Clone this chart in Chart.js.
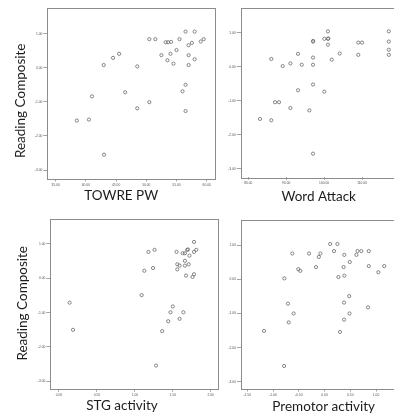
<!DOCTYPE html>
<html>
<head>
<meta charset="utf-8">
<script src="https://cdn.jsdelivr.net/npm/chart.js@4.4.1/dist/chart.umd.min.js"></script>
<style>
  html, body { margin: 0; padding: 0; background: #fff; overflow: hidden; }
  body { width: 394px; height: 414px; position: relative; }
  canvas { position: absolute; }
</style>
</head>
<body>
<canvas id="c1" width="232" height="207" style="left:0px;top:0px"></canvas>
<canvas id="c2" width="210" height="207" style="left:200px;top:0px"></canvas>
<canvas id="c3" width="232" height="207" style="left:0px;top:207px"></canvas>
<canvas id="c4" width="210" height="207" style="left:200px;top:207px"></canvas>
<script>
// ---------- data ----------
const yTitle = 'Reading Composite';
const readingTicks = [-3, -2, -1, 0, 1];
const readingTickLabels = ['-3.00', '-2.00', '-1.00', '0.00', '1.00'];

const towreTitle = 'TOWRE PW';
const towreTicks = [35, 40, 45, 50, 55, 60];
const towreTickLabels = ['35.00', '40.00', '45.00', '50.00', '55.00', '60.00'];
const towreX = [38.5, 40.5, 41.0, 43.0, 42.95, 44.5, 45.5, 46.5, 48.5, 48.5, 50.5, 50.5, 51.5, 52.5, 53.2, 53.6, 54.1, 53.5, 54.0, 54.5, 55.0, 55.5, 56.5, 56.5, 56.0, 56.5, 57.0, 57.55, 57.0, 57.0, 58.0, 58.0, 59.0, 59.5];
const towreY = [-1.55, -1.52, -0.84, -2.55, 0.08, 0.29, 0.41, -0.72, 0.04, -1.19, -1.01, 0.84, 0.84, 0.37, 0.75, 0.75, 0.76, 0.22, 0.41, 0.12, 0.52, 0.84, 1.06, -0.5, -0.69, -1.27, 0.66, 0.73, 0.37, 0.08, 1.06, 0.25, 0.77, 0.84];

const waTitle = 'Word Attack';
const waTicks = [80, 90, 100, 110];
const waTickLabels = ['80.00', '90.00', '100.00', '110.00'];
const waX = [83.1, 86.07, 86.07, 87.05, 88.1, 89.07, 91.1, 91.1, 93.1, 93.1, 94.1, 96.1, 97.07, 97.07, 97.07, 97.1, 97.07, 97.07, 100.05, 100.05, 101.0, 101.0, 101.1, 101.0, 102.0, 104.1, 109.0, 110.0, 109.0, 117.05, 117.05, 117.05, 117.05];
const waY = [-1.53, -1.57, 0.23, -1.04, -1.04, 0.02, 0.10, -1.21, 0.38, -0.69, 0.06, -1.28, 0.06, 0.27, 0.74, 0.76, -0.52, -2.55, -0.73, 0.82, 1.04, 0.82, 0.83, 0.65, 0.21, 0.39, 0.71, 0.71, 0.35, 1.04, 0.74, 0.50, 0.35];

const stgTitle = 'STG activity';
const stgTicks = [0, 0.5, 1, 1.5, 2];
const stgTickLabels = ['0.00', '0.50', '1.00', '1.50', '2.00'];
const stgX = [0.14, 0.185, 1.09, 1.125, 1.24, 1.18, 1.26, 1.28, 1.36, 1.44, 1.47, 1.5, 1.55, 1.56, 1.56, 1.59, 1.59, 1.63, 1.64, 1.66, 1.66, 1.66, 1.675, 1.69, 1.70, 1.71, 1.72, 1.76, 1.78, 1.78, 1.78, 1.81];
const stgY = [-0.71, -1.50, -0.49, 0.22, 0.30, 0.77, 0.83, -2.54, -1.54, -1.25, -0.99, -0.82, 0.77, 0.41, 0.26, 0.37, -1.18, 0.73, -0.99, 0.73, 0.51, 0.37, 0.08, 0.83, 0.84, 0.41, 0.66, 0.04, 1.06, 0.77, 0.12, 0.83];

const pmTitle = 'Premotor activity';
const pmTicks = [-1.5, -1, -0.5, 0, 0.5, 1];
const pmTickLabels = ['-1.50', '-1.00', '-0.50', '0.00', '0.50', '1.00'];
const pmX = [-1.175, -0.785, -0.78, -0.71, -0.695, -0.625, -0.60, -0.51, -0.47, -0.30, -0.165, -0.11, -0.08, 0.11, 0.185, 0.25, 0.27, 0.30, 0.37, 0.38, 0.38, 0.385, 0.385, 0.48, 0.485, 0.49, 0.62, 0.64, 0.715, 0.845, 0.86, 0.86, 1.045, 1.16];
const pmY = [-1.51, -2.54, 0.03, -0.71, -1.26, 0.76, -1.00, 0.30, 0.25, 0.76, 0.36, 0.66, 0.76, 1.04, 0.83, 1.04, 0.07, -1.54, 0.36, -0.68, -1.18, 0.72, 0.11, -0.49, -1.00, 0.51, 0.72, 0.83, 0.83, -0.82, 0.83, 0.39, 0.21, 0.39];

// ---------- drawing ----------
const TITLE_FONT = '13.5px Lato';
const decor = {
  id: 'decor',
  beforeDatasetsDraw(chart) {
    const { ctx, chartArea: a } = chart;
    ctx.save();
    ctx.strokeStyle = '#8c8c8c';
    ctx.lineWidth = 1;
    ctx.strokeRect(Math.round(a.left) + 0.5, Math.round(a.top) + 0.5,
                   Math.round(a.right - a.left), Math.round(a.bottom - a.top));
    ctx.restore();
  },
  afterDraw(chart, args, o) {
    const { ctx } = chart;
    ctx.save();
    ctx.fillStyle = '#1c1c1c';
    ctx.font = TITLE_FONT;
    ctx.textAlign = 'center';
    ctx.textBaseline = 'alphabetic';
    if (o.xTitle) ctx.fillText(o.xTitle.text, o.xTitle.x, o.xTitle.y);
    if (o.yTitle) {
      ctx.translate(o.yTitle.x, o.yTitle.y);
      ctx.rotate(-Math.PI / 2);
      ctx.fillText(o.yTitle.text, 0, 0);
    }
    ctx.restore();
  }
};

function makeChart(id, xs, ys, cfg) {
  const pts = xs.map((x, i) => ({ x: x, y: ys[i] }));
  const tickFont = { family: 'Liberation Sans', size: 3.3 };
  return new Chart(document.getElementById(id), {
    type: 'scatter',
    data: { datasets: [{
      data: pts,
      pointStyle: 'circle',
      pointRadius: 1.6,
      pointBorderWidth: 0.8,
      pointBorderColor: '#6a6a6a',
      pointBackgroundColor: 'rgba(0,0,0,0)'
    }] },
    plugins: [decor],
    options: {
      responsive: false,
      animation: false,
      devicePixelRatio: 1,
      layout: { padding: { top: cfg.padTop, right: cfg.padRight, left: 0, bottom: 0 } },
      plugins: {
        legend: { display: false },
        tooltip: { enabled: false },
        decor: { xTitle: cfg.xTitle, yTitle: cfg.yTitle }
      },
      scales: {
        x: {
          type: 'linear', min: cfg.xMin, max: cfg.xMax,
          afterBuildTicks: s => { s.ticks = cfg.xTicks.map(v => ({ value: v })); },
          afterFit: s => { s.height = cfg.xAxisH; },
          ticks: {
            callback: (v) => cfg.xLabels[cfg.xTicks.indexOf(v)],
            font: tickFont, color: '#555', padding: 1.5, maxRotation: 0, autoSkip: false
          },
          grid: { drawOnChartArea: false, drawTicks: true, tickLength: 2.5, color: '#8c8c8c', lineWidth: 0.8 },
          border: { display: false }
        },
        y: {
          type: 'linear', min: cfg.yMin, max: cfg.yMax,
          afterBuildTicks: s => { s.ticks = readingTicks.map(v => ({ value: v })); },
          afterFit: s => { s.width = cfg.yAxisW; },
          ticks: {
            callback: (v) => readingTickLabels[readingTicks.indexOf(v)],
            font: tickFont, color: '#555', padding: 1, autoSkip: false
          },
          grid: { drawOnChartArea: false, drawTicks: true, tickLength: 4, color: '#8c8c8c', lineWidth: 0.8 },
          border: { display: false }
        }
      }
    }
  });
}

// Panel 1: TOWRE PW (canvas at 0,0)
makeChart('c1', towreX, towreY, {
  xMin: 33.61, xMax: 61.49, yMin: -3.264, yMax: 1.745,
  xTicks: towreTicks, xLabels: towreTickLabels,
  padTop: 8.3, padRight: 232 - 215.7, yAxisW: 47.3, xAxisH: 207 - 179,
  xTitle: { text: towreTitle, x: 121.2, y: 200 },
  yTitle: { text: yTitle, x: 25, y: 100.8 }
});

// Panel 2: Word Attack (canvas at 200,0)
makeChart('c2', waX, waY, {
  xMin: 78.0, xMax: 120.0, yMin: -3.244, yMax: 1.734,
  xTicks: waTicks, xLabels: waTickLabels,
  padTop: 7.7, padRight: 10, yAxisW: 40.7, xAxisH: 207 - 177.3,
  xTitle: { text: waTitle, x: 118.7, y: 201 }
});

// Panel 3: STG activity (canvas at 0,207)
makeChart('c3', stgX, stgY, {
  xMin: -0.1147, xMax: 2.103, yMin: -3.233, yMax: 1.728,
  xTicks: stgTicks, xLabels: stgTickLabels,
  padTop: 12, padRight: 232 - 218.5, yAxisW: 50.3, xAxisH: 207 - 182.3,
  xTitle: { text: stgTitle, x: 122, y: 203.2 },
  yTitle: { text: yTitle, x: 26.8, y: 96.3 }
});

// Panel 4: Premotor activity (canvas at 200,207)
makeChart('c4', pmX, pmY, {
  xMin: -1.622, xMax: 1.466, yMin: -3.214, yMax: 1.742,
  xTicks: pmTicks, xLabels: pmTickLabels,
  padTop: 13, padRight: 10, yAxisW: 41, xAxisH: 207 - 182,
  xTitle: { text: pmTitle, x: 123.7, y: 204 }
});
</script>
</body>
</html>
